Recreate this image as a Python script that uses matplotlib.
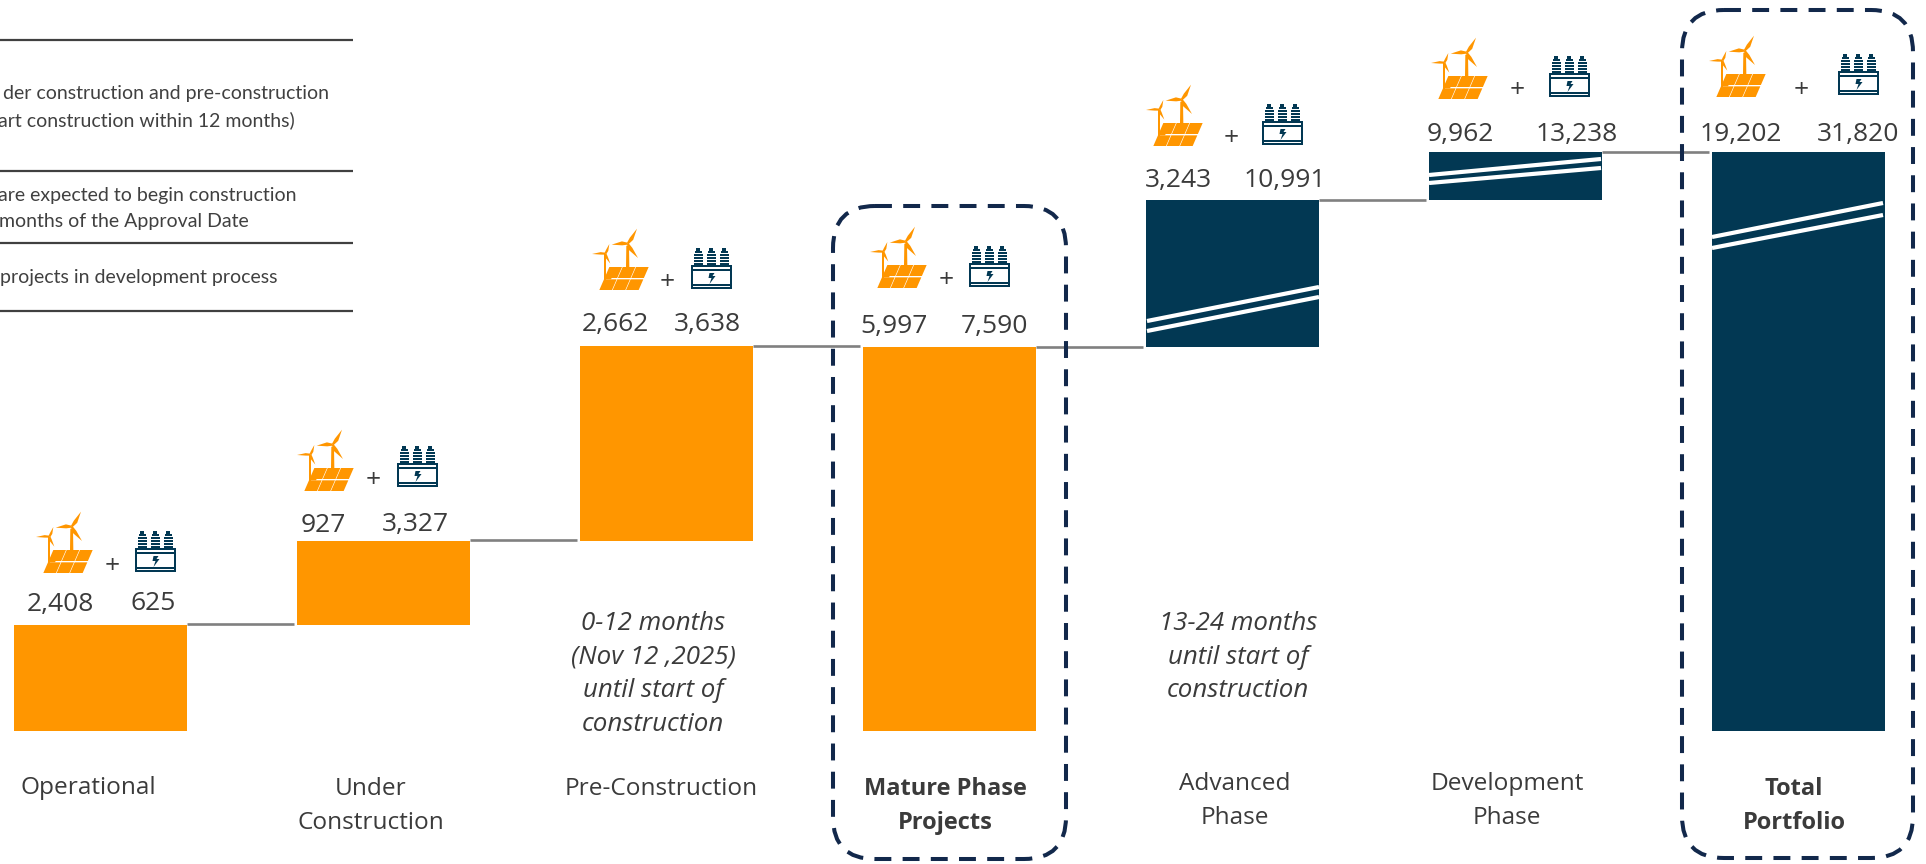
import matplotlib
matplotlib.use("Agg")
import matplotlib.pyplot as plt
from matplotlib.patches import Polygon, Rectangle, FancyBboxPatch

# ---------- data ----------
categories = [["Operational"], ["Under", "Construction"], ["Pre-Construction"],
              ["Mature Phase", "Projects"], ["Advanced", "Phase"],
              ["Development", "Phase"], ["Total", "Portfolio"]]
wind_solar = ["2,408", "927", "2,662", "5,997", "3,243", "9,962", "19,202"]
storage = ["625", "3,327", "3,638", "7,590", "10,991", "13,238", "31,820"]
# the source draws the bars schematically (broken bars), so heights are read as drawn
bar_base = [0, 106, 190, 0, 384, 531, 0]
bar_height = [106, 84, 195, 384, 147, 48, 579]
is_orange = [True, True, True, True, False, False, False]
connector_level = [107, 191, 385, 384, 531, 579]
timing_notes = {2: ["0-12 months", "(Nov 12 ,2025)", "until start of", "construction"],
                4: ["13-24 months", "until start of", "construction"]}
table_text = [("der construction and pre-construction", 94),
              ("art construction within 12 months)", 120),
              ("are expected to begin construction", 196),
              ("months of the Approval Date", 221),
              ("projects in development process", 277)]
table_right = [329, 295, 296, 249, 277]
table_rules = [40, 171, 243, 311]

# ---------- style / layout ----------
ORANGE = "#FF9600"
NAVY = "#023853"
TEXT = "#3B3B3B"
DASH = "#12284B"
W, H = 1926, 864
plt.rcParams["font.family"] = ["Open Sans", "DejaVu Sans"]

fig = plt.figure(figsize=(W / 100, H / 100), dpi=100, facecolor="white")
ax = fig.add_axes([0, 0, 1, 1])
ax.set_xlim(-100.5 / 283, (W - 100.5) / 283)
ax.set_ylim(-(H - 731), 731)
ax.axis("off")
ov = fig.add_axes([0, 0, 1, 1], facecolor="none")
ov.set_xlim(0, W)
ov.set_ylim(H, 0)
ov.axis("off")

BAR_W = 173 / 283
xs = list(range(len(categories)))
ax.bar(xs, bar_height, bottom=bar_base, width=BAR_W,
       color=[ORANGE if o else NAVY for o in is_orange], linewidth=0, zorder=2)

# connectors between the bars
for i, lvl in enumerate(connector_level):
    ax.plot([i + BAR_W / 2, i + 1 - BAR_W / 2 - 0.01], [lvl, lvl], color="#808080",
            lw=1.9, solid_capstyle="butt", zorder=3)

# break marks on the schematic navy bars
breaks = [((1147, 321), (1319, 287)), ((1147, 331), (1319, 297)),
          ((1429, 175), (1601, 159)), ((1429, 183), (1601, 168)),
          ((1712, 237), (1883, 203)), ((1712, 248), (1883, 215))]
for (x0, y0), (x1, y1) in breaks:
    ov.plot([x0, x1], [y0, y1], color="white", lw=3.0, solid_capstyle="butt", zorder=4)


def blade(hub, tip, w):
    hx, hy = hub
    tx, ty = tip
    dx, dy = tx - hx, ty - hy
    n = (dx * dx + dy * dy) ** 0.5
    nx, ny = -dy / n, dx / n
    mx, my = hx + dx * 0.35, hy + dy * 0.35
    return [(hx - nx * 3, hy - ny * 3), (hx + nx * 3, hy + ny * 3),
            (mx + nx * w, my + ny * w), (tx, ty), (mx - nx * w * 0.5, my - ny * w * 0.5)]


def wind_icon(left, bottom):
    def P(pts):
        # icon drawn in 3x units, origin at lower-left of its box
        return [(left + (x - 108) / 3, bottom + (y - 221) / 3) for x, y in pts]
    kw = dict(facecolor=ORANGE, edgecolor="none", zorder=5)
    # panel cells
    rows = [(152, 185), (189, 221)]
    slope = 30 / 69
    for y0, y1 in rows:
        for c in range(3):
            xl = 160 + c * 40
            xr = xl + 38
            off0 = (y0 - 152) * slope
            off1 = (y1 - 152) * slope
            ov.add_patch(Polygon(P([(xl - off0, y0), (xr - off0, y0), (xr - off1, y1), (xl - off1, y1)]), **kw))
    # towers
    ov.add_patch(Polygon(P([(211, 88), (219, 88), (220, 152), (210, 152)]), **kw))
    ov.add_patch(Polygon(P([(145, 112), (151, 112), (151, 221), (145, 221)]), **kw))
    ov.add_patch(Polygon(P([(145, 183), (168, 183), (165, 189), (145, 189)]), **kw))
    # rotors
    for tip in [(243, 37), (167, 85), (246, 125)]:
        ov.add_patch(Polygon(P(blade((215, 82), tip, 8)), **kw))
    for tip in [(108, 113), (160, 83), (163, 142)]:
        ov.add_patch(Polygon(P(blade((148, 112), tip, 5)), **kw))


def transformer_icon(left, bottom):
    # whole pixels, so the fine ribs and outlines stay crisp
    kw = dict(facecolor=NAVY, edgecolor="none", zorder=5)
    white = dict(facecolor="white", edgecolor="none", zorder=6)
    ov.add_patch(Rectangle((left, bottom - 24), 41, 24, **kw))
    ov.add_patch(Rectangle((left + 2, bottom - 22), 37, 2, **white))
    ov.add_patch(Rectangle((left + 2, bottom - 18), 37, 13, **white))
    ov.add_patch(Rectangle((left + 2, bottom - 3), 37, 1, **white))
    for cx in (7, 20, 33):
        ov.add_patch(Rectangle((left + cx - 2, bottom - 41), 4, 4, **kw))
        for dy, hw in zip((38, 35, 32, 29, 26), (3.5, 4.5, 4.5, 4.5, 4.5)):
            ov.add_patch(Rectangle((left + cx - hw, bottom - dy), 2 * hw, 2, **kw))
    bolt = [(-2, -16), (3, -16), (1, -13), (4, -13), (-2, -5), (0, -11), (-3, -11)]
    ov.add_patch(Polygon([(left + 20.5 + x, bottom + y) for x, y in bolt],
                         facecolor=NAVY, edgecolor="none", zorder=7))


# per-bar layout of pictograms and numbers, in figure pixels
wind_pos = [(36, 573), (297, 491), (592, 290), (870, 288), (1146, 146), (1431, 99), (1709, 97)]
trans_pos = [(135, 572), (397, 487), (691, 289), (969, 287), (1262, 145), (1549, 97), (1838, 95)]
plus_pos = [(112, 566), (373, 480), (667, 282), (946, 280), (1231, 138), (1517, 91), (1801, 90)]
ws_x = [60, 323, 615, 894, 1178, 1460, 1741]
st_x = [153.5, 415, 707, 994, 1285, 1577, 1858]
num_y = [604, 525, 325, 327, 181, 135, 135]

for i in xs:
    wind_icon(*wind_pos[i])
    transformer_icon(*trans_pos[i])
    ov.text(*plus_pos[i], "+", ha="center", va="center", fontsize=19, color=TEXT, zorder=6)
    ov.text(ws_x[i], num_y[i], wind_solar[i], ha="center", va="center", fontsize=19, color=TEXT, zorder=6)
    ov.text(st_x[i], num_y[i], storage[i], ha="center", va="center", fontsize=19, color=TEXT, zorder=6)

# category labels
label_x = [88, 371, 661, 945, 1235, 1507, 1794]
label_y = [788, 789, 789, 789, 784, 784, 789]
is_bold = [False, False, False, True, False, False, True]
for i, lines in enumerate(categories):
    for j, line in enumerate(lines):
        ov.text(label_x[i], label_y[i] + j * 34, line, ha="center", va="center",
                fontsize=17 if is_bold[i] else 17.6, color=TEXT,
                fontweight="bold" if is_bold[i] else "normal")

# timing notes
note_x = {2: 653, 4: 1238}
for k, lines in timing_notes.items():
    for j, line in enumerate(lines):
        ov.text(note_x[k], 624 + j * 33.4, line, ha="center", va="center", fontsize=18.6,
                color=TEXT, style="italic")

# cropped table on the left
for y in table_rules:
    ov.plot([0, 353], [y, y], color="#404040", lw=1.6, solid_capstyle="butt")
for (line, y), xr in zip(table_text, table_right):
    ov.text(xr, y, line, ha="right", va="center", fontsize=14, color="#404040", family=["Lato", "DejaVu Sans"])

# dashed highlight boxes
for x0, x1, y0, y1 in [(833, 1066, 206, 859), (1682, 1913, 10, 858)]:
    r = 42
    ov.add_patch(FancyBboxPatch((x0 + r, y0 + r), x1 - x0 - 2 * r, y1 - y0 - 2 * r,
                                boxstyle=f"round,pad={r},rounding_size={r}", fill=False,
                                edgecolor=DASH, lw=2.9, linestyle=(0, (4.2, 2.8)),
                                capstyle="butt", zorder=3, mutation_aspect=1))

fig.savefig("out.png", dpi=100, facecolor="white")
